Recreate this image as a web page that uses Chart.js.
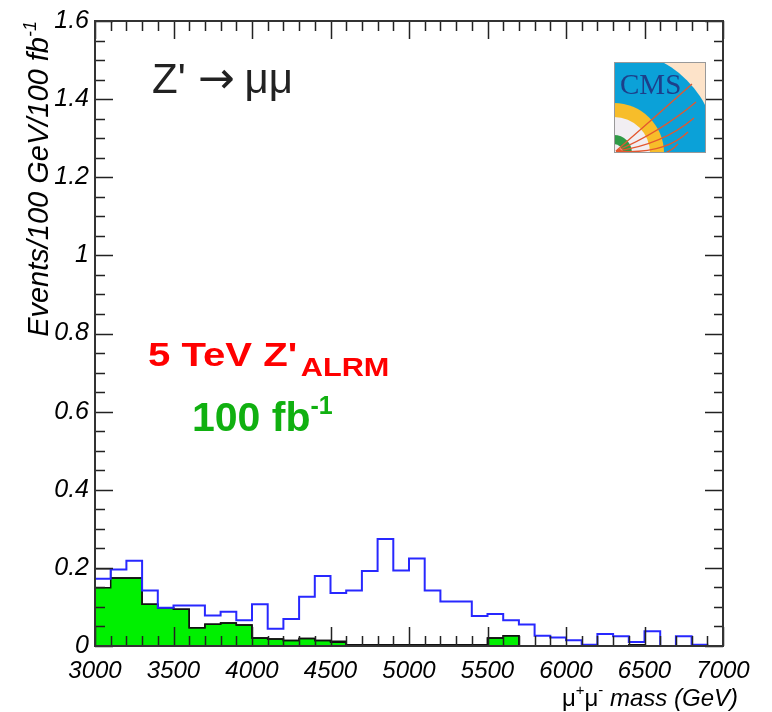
<!DOCTYPE html>
<html>
<head>
<meta charset="utf-8">
<script src="https://cdn.jsdelivr.net/npm/chart.js@4.4.1/dist/chart.umd.min.js"></script>
<style>
  body { margin: 0; background: #fff; }
  #wrap { width: 772px; height: 712px; position: relative; }
</style>
</head>
<body>
<div id="wrap"><canvas id="massChart"></canvas></div>
<script>
// bin edges (GeV), 100 GeV bins
const binEdges = [3000, 3100, 3200, 3300, 3400, 3500, 3600, 3700, 3800, 3900,
                  4000, 4100, 4200, 4300, 4400, 4500, 4600, 4700, 4800, 4900,
                  5000, 5100, 5200, 5300, 5400, 5500, 5600, 5700, 5800, 5900,
                  6000, 6100, 6200, 6300, 6400, 6500, 6600, 6700, 6800, 6900, 7000];

// events / 100 GeV / 100 fb-1, one value per bin
const signalZp = [0.172, 0.196, 0.218, 0.142, 0.098, 0.104, 0.104, 0.078, 0.088, 0.066,
                  0.107, 0.044, 0.069, 0.126, 0.179, 0.136, 0.142, 0.192, 0.274, 0.193,
                  0.224, 0.142, 0.114, 0.114, 0.077, 0.082, 0.066, 0.055, 0.026, 0.022,
                  0.015, 0.003, 0.031, 0.025, 0.010, 0.038, 0.000, 0.025, 0.003, 0.000];

const bkgTotal = [0.198, 0.174, 0.174, 0.107, 0.098, 0.094, 0.047, 0.056, 0.059, 0.054,
                  0.0205, 0.018, 0.014, 0.019, 0.014, 0.012, 0.003, 0.003, 0.003, 0.003,
                  0.003, 0.003, 0.003, 0.003, 0.003, 0.0205, 0.026, 0.000, 0.000, 0.000,
                  0.000, 0.002, 0.000, 0.000, 0.003, 0.000, 0.000, 0.000, 0.000, 0.000];

const bkgDY = [0.149, 0.174, 0.174, 0.107, 0.098, 0.094, 0.047, 0.056, 0.059, 0.054,
               0.0205, 0.018, 0.014, 0.019, 0.014, 0.0095, 0, 0, 0, 0,
               0, 0, 0, 0, 0, 0.0205, 0.026, 0, 0, 0,
               0, 0, 0, 0, 0, 0, 0, 0, 0, 0];

const xLabelValues = [3000, 3500, 4000, 4500, 5000, 5500, 6000, 6500, 7000];
const yLabelValues = [0, 0.2, 0.4, 0.6, 0.8, 1, 1.2, 1.4, 1.6];

const sans = '"Liberation Sans", Arial, sans-serif';

function toSteps(values) {
    const pts = values.map((v, i) => ({ x: binEdges[i], y: v }));
    pts.push({ x: binEdges[binEdges.length - 1], y: values[values.length - 1] });
    return pts;
}

function isLabel(list, v) {
    return list.some(l => Math.abs(l - v) < 1e-6);
}

// draws pieces of text one after another on one baseline
function drawRich(ctx, x, y, parts, measureOnly) {
    let cx = x;
    parts.forEach(p => {
        ctx.font = p.font;
        cx += p.gap || 0;
        if (!measureOnly) {
            ctx.fillStyle = p.color || '#000';
            ctx.fillText(p.t, cx, y + (p.dy || 0));
        }
        cx += ctx.measureText(p.t).width;
    });
    return cx - x;
}

function drawCmsLogo(ctx, x, y, w, h) {
    ctx.save();
    ctx.beginPath();
    ctx.rect(x, y, w, h);
    ctx.clip();
    ctx.fillStyle = '#fde3c9';
    ctx.fillRect(x, y, w, h);
    const cx = x, cy = y + h;
    const rings = [[103, '#0ba1d8'], [50, '#f7bd2a'], [36, '#f1eef2'], [18, '#2f9a46']];
    rings.forEach(([r, c]) => {
        ctx.beginPath();
        ctx.moveTo(cx, cy);
        ctx.arc(cx, cy, r, -Math.PI / 2, 0);
        ctx.closePath();
        ctx.fillStyle = c;
        ctx.fill();
    });
    ctx.beginPath();
    ctx.moveTo(cx, cy);
    ctx.arc(cx, cy, 9, -Math.PI / 2, 0);
    ctx.closePath();
    ctx.fillStyle = '#f1eef2';
    ctx.fill();

    ctx.strokeStyle = '#e4572e';
    ctx.lineWidth = 1.3;
    const ends = [[w - 14, 22, 40, -55], [w - 10, 40, 45, -40], [w - 12, 56, 48, -28], [w - 18, 70, 50, -18], [w - 28, 82, 45, -8]];
    ends.forEach(([ex, ey, qx, qy]) => {
        ctx.beginPath();
        ctx.moveTo(x + 2, y + h - 2);
        ctx.quadraticCurveTo(x + qx, y + h + qy + 20, x + ex, y + ey);
        ctx.stroke();
    });

    ctx.fillStyle = '#1d3f8a';
    ctx.font = '29px "Liberation Serif", "DejaVu Serif", serif';
    ctx.textAlign = 'left';
    ctx.textBaseline = 'alphabetic';
    ctx.fillText('CMS', x + 6, y + 32);
    ctx.restore();

    ctx.strokeStyle = '#999';
    ctx.lineWidth = 1;
    ctx.strokeRect(x + 0.5, y + 0.5, w - 1, h - 1);
}

const rootFrame = {
    id: 'rootFrame',
    afterDraw(chart) {
        const ctx = chart.ctx;
        const a = chart.chartArea;
        const xs = chart.scales.x;
        const ys = chart.scales.y;

        ctx.save();
        ctx.strokeStyle = '#222';
        ctx.lineWidth = 1.5;
        ctx.beginPath();
        ys.ticks.forEach(t => {
            const py = Math.round(ys.getPixelForValue(t.value)) + 0.5;
            const major = isLabel(yLabelValues, t.value);
            ctx.moveTo(a.left, py);
            ctx.lineTo(a.left + (major ? 18 : 10), py);
            ctx.moveTo(a.right, py);
            ctx.lineTo(a.right - (major ? 18 : 9), py);
        });
        xs.ticks.forEach(t => {
            const px = Math.round(xs.getPixelForValue(t.value)) + 0.5;
            const major = isLabel(xLabelValues, t.value);
            ctx.moveTo(px, a.bottom);
            ctx.lineTo(px, a.bottom - (major ? 19 : 10));
            ctx.moveTo(px, a.top);
            ctx.lineTo(px, a.top + (major ? 18 : 10));
        });
        ctx.stroke();

        ctx.strokeStyle = '#333';
        ctx.lineWidth = 2;
        ctx.strokeRect(a.left, a.top, a.right - a.left, a.bottom - a.top);

        ctx.textAlign = 'left';
        ctx.textBaseline = 'alphabetic';

        // y axis title, right-aligned to the top of the frame
        const yParts = [
            { t: 'Events/100 GeV/100 fb', font: 'italic 29px ' + sans },
            { t: '-1', font: 'italic 18px ' + sans, dy: -12 }
        ];
        ctx.save();
        ctx.translate(48, a.top);
        ctx.rotate(-Math.PI / 2);
        const yw = drawRich(ctx, 0, 0, yParts, true);
        drawRich(ctx, -yw, 0, yParts);
        ctx.restore();

        // x axis title, right-aligned
        const xParts = [
            { t: 'μ', font: '24px ' + sans },
            { t: '+', font: '15px ' + sans, dy: -11 },
            { t: 'μ', font: '24px ' + sans },
            { t: '-', font: '15px ' + sans, dy: -11 },
            { t: ' mass (GeV)', font: 'italic 24px ' + sans }
        ];
        const xw = drawRich(ctx, 0, 0, xParts, true);
        drawRich(ctx, 738 - xw, 706, xParts);

        // process label
        drawRich(ctx, 152, 93, [
            { t: "Z'", font: '42px ' + sans, color: '#222' },
            { t: '→', font: '44px "DejaVu Sans", sans-serif', color: '#222', gap: 12 },
            { t: 'μμ', font: '42px ' + sans, color: '#222', gap: 10 }
        ]);

        // signal label, slightly wide lettering as in the original
        ctx.save();
        ctx.translate(148, 366);
        ctx.scale(1.18, 1);
        drawRich(ctx, 0, 0, [
            { t: "5 TeV Z'", font: 'bold 34px ' + sans, color: '#ff0000' },
            { t: 'ALRM', font: 'bold 26px ' + sans, color: '#ff0000', dy: 10, gap: 3 }
        ]);
        ctx.restore();

        drawRich(ctx, 192, 431, [
            { t: '100 fb', font: 'bold 41px ' + sans, color: '#10b010' },
            { t: '-1', font: 'bold 25px ' + sans, color: '#10b010', dy: -17 }
        ]);

        drawCmsLogo(ctx, 614, 62, 92, 91);
        ctx.restore();
    }
};

new Chart(document.getElementById('massChart'), {
    type: 'line',
    data: {
        datasets: [{
            label: "Z' signal",
            data: toSteps(signalZp),
            stepped: true,
            borderColor: 'rgb(40, 40, 255)',
            borderWidth: 2,
            pointRadius: 0,
            fill: false
        }, {
            label: 'Total background',
            data: toSteps(bkgTotal),
            stepped: true,
            borderColor: '#111',
            borderWidth: 1.5,
            pointRadius: 0,
            fill: false
        }, {
            label: 'Drell-Yan',
            data: toSteps(bkgDY),
            stepped: true,
            borderColor: '#111',
            borderWidth: 1.5,
            backgroundColor: '#00f000',
            pointRadius: 0,
            fill: 'origin'
        }]
    },
    options: {
        responsive: true,
        maintainAspectRatio: false,
        animation: false,
        layout: {
            padding: { top: 20, right: 49, bottom: 0, left: 0 }
        },
        plugins: {
            legend: { display: false },
            tooltip: { enabled: false }
        },
        scales: {
            x: {
                type: 'linear',
                min: 3000,
                max: 7000,
                afterFit: s => { s.height = 66; },
                grid: { display: false, drawTicks: false },
                border: { display: false },
                ticks: {
                    stepSize: 100,
                    autoSkip: false,
                    maxRotation: 0,
                    padding: 11,
                    color: '#000',
                    font: { family: sans, size: 24, style: 'italic' },
                    callback: v => isLabel(xLabelValues, v) ? String(v) : ''
                }
            },
            y: {
                min: 0,
                max: 1.6,
                afterFit: s => { s.width = 95; },
                grid: { display: false, drawTicks: false },
                border: { display: false },
                ticks: {
                    stepSize: 0.05,
                    autoSkip: false,
                    padding: 6,
                    color: '#000',
                    font: { family: sans, size: 25, style: 'italic' },
                    callback: v => isLabel(yLabelValues, v) ? String(Math.round(v * 10) / 10) : ''
                }
            }
        }
    },
    plugins: [rootFrame]
});
</script>
</body>
</html>
